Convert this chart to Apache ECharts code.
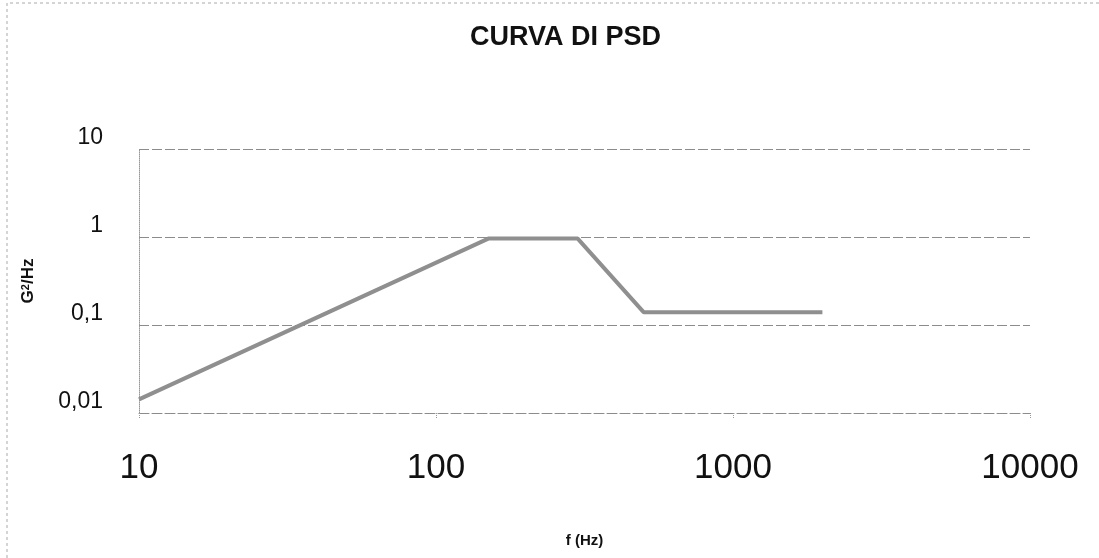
<!DOCTYPE html>
<html>
<head>
<meta charset="utf-8">
<script src="https://cdn.jsdelivr.net/npm/echarts@6/dist/echarts.min.js"></script>
<style>
  html, body { margin: 0; padding: 0; background: #fff; }
  #chart { width: 1099px; height: 558px; }
</style>
</head>
<body>
<div id="chart"></div>
<script>
// dati della curva PSD (frequenza in Hz, densità in G^2/Hz)
var freq = [10, 150, 300, 500, 2000];
var psd = [0.0143, 0.96, 0.96, 0.14, 0.14];

var chart = echarts.init(document.getElementById('chart'));

var gridColor = '#8c8c8c';

var option = {
    backgroundColor: '#fff',
    animation: false,
    title: {
        text: 'CURVA DI PSD',
        left: 465,
        top: 19,
        textStyle: {
            fontFamily: 'Liberation Sans',
            fontWeight: 'bold',
            fontSize: 27,
            color: '#111'
        }
    },
    grid: { left: 139, right: 69, top: 149, bottom: 145 },
    xAxis: {
        type: 'log',
        logBase: 10,
        min: 10,
        max: 10000,
        name: 'f (Hz)',
        nameLocation: 'middle',
        nameGap: 120,
        nameTextStyle: {
            fontFamily: 'Liberation Sans',
            fontWeight: 'bold',
            fontSize: 15,
            color: '#111'
        },
        axisLine: { show: true, lineStyle: { color: gridColor, width: 1, type: [10, 3] } },
        axisTick: { show: true, length: 6, lineStyle: { color: '#999', type: 'dotted' } },
        minorTick: { show: false },
        splitLine: { show: false },
        axisLabel: {
            margin: 38,
            fontFamily: 'Liberation Sans',
            fontSize: 35,
            color: '#111',
            formatter: function (v) { return String(Math.round(v)); }
        }
    },
    yAxis: {
        type: 'log',
        logBase: 10,
        min: 0.01,
        max: 10,
        name: 'G{sup|2}/Hz',
        nameLocation: 'middle',
        nameRotate: 90,
        nameGap: 102,
        nameTextStyle: {
            fontFamily: 'Liberation Sans',
            fontWeight: 'bold',
            fontSize: 17,
            color: '#111',
            rich: {
                sup: {
                    fontFamily: 'Liberation Sans',
                    fontWeight: 'bold',
                    fontSize: 11,
                    verticalAlign: 'top',
                    padding: [0, 0, 6, 0],
                    color: '#111'
                }
            }
        },
        axisLine: { show: true, lineStyle: { color: '#999', type: 'dotted' } },
        axisTick: { show: false },
        splitLine: { show: true, lineStyle: { color: gridColor, width: 1, type: [10, 3] } },
        axisLabel: {
            margin: 36,
            verticalAlign: 'bottom',
            fontFamily: 'Liberation Sans',
            fontSize: 23,
            color: '#111',
            formatter: function (v) {
                return String(+v.toPrecision(6)).replace('.', ',');
            }
        }
    },
    graphic: [
        {
            type: 'polyline',
            silent: true,
            shape: { points: [[7, 558], [7, 3], [1099, 3]] },
            style: { stroke: '#aaa', lineWidth: 1, lineDash: [3, 3], fill: null }
        }
    ],
    series: [{
        type: 'line',
        data: freq.map(function (f, i) { return [f, psd[i]]; }),
        symbol: 'none',
        lineStyle: { color: '#8f8f8f', width: 4 }
    }]
};

chart.setOption(option);
</script>
</body>
</html>
